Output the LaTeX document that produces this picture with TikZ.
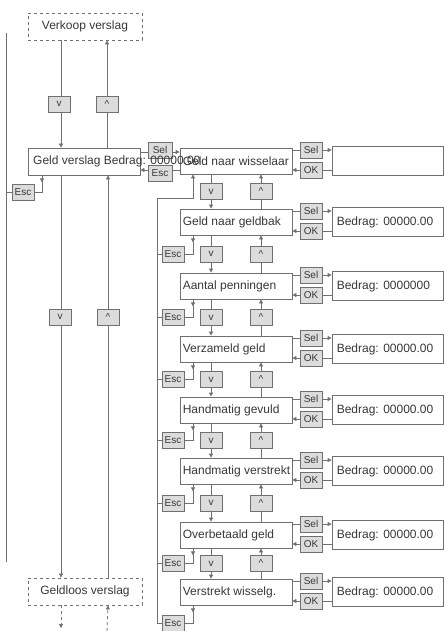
\documentclass[tikz,border=0pt]{standalone}
\usepackage{fontspec}
\setmainfont{Liberation Sans}
\usetikzlibrary{arrows.meta,calc,backgrounds}
\definecolor{ln}{HTML}{707070}
\definecolor{kf}{HTML}{DCDCDC}
\definecolor{tx}{HTML}{383838}
\begin{document}
\begin{tikzpicture}[x=1pt,y=-1pt,
  every node/.style={text=tx},
  line/.style={draw=ln,line width=0.8pt},
  arr/.style={line,-{Triangle[length=4pt,width=4pt]}},
  mainbox/.style={draw=ln,line width=0.8pt,fill=white,minimum width=112pt,minimum height=26pt,inner xsep=3pt,inner ysep=0pt,font=\fontsize{12}{14}\selectfont},
  keybox/.style={draw=ln,line width=0.8pt,fill=kf,minimum width=22pt,minimum height=16pt,inner sep=0pt,font=\fontsize{10}{11}\selectfont},
  dispbox/.style={draw=ln,line width=0.8pt,fill=white,minimum width=111pt,minimum height=29pt,inner xsep=5pt,inner ysep=0pt,font=\fontsize{12}{14}\selectfont},
  dashbox/.style={draw=ln,line width=0.8pt,fill=white,dashed,minimum width=114pt,minimum height=27pt,inner sep=0pt,font=\fontsize{12}{14}\selectfont},
  lbl/.style={font=\fontsize{12}{14}\selectfont,inner sep=0pt}
]
\useasboundingbox (0,0) rectangle (445,631);

% ---------- left column ----------
\node[dashbox] (vv) at (85,26.5) {Verkoop verslag};
\node[mainbox,minimum height=27pt] (gv) at (84,161.5) {};
\node[dashbox] (gl) at (85,591.5) {Geldloos verslag};
\node[keybox] (lv1) at (59,104) {v};
\node[keybox] (lu1) at (107,104) {\textasciicircum};
\node[keybox] (lv2) at (60,317) {v};
\node[keybox] (lu2) at (108,317) {\textasciicircum};
\node[keybox] (e1) at (23,192) {Esc};
\coordinate (lt) at (6,33);
\coordinate (lb) at (6,562);
\coordinate (bd) at (61,628);
\coordinate (bu) at (107,631);

% middle keys
\node[keybox,minimum width=24pt] (ms) at (160,150) {Sel};
\node[keybox,minimum width=24pt] (me) at (160,173) {Esc};

% ---------- right chain ----------
\foreach \i/\y/\t/\d in {
  1/161/Geld naar wisselaar/{},
  2/222/Geld naar geldbak/Bedrag: 00000.00,
  3/286/Aantal penningen/Bedrag: 0000000,
  4/349/Verzameld geld/Bedrag: 00000.00,
  5/410/Handmatig gevuld/Bedrag: 00000.00,
  6/471/Handmatig verstrekt/Bedrag: 00000.00,
  7/535/Overbetaald geld/Bedrag: 00000.00,
  8/592/Verstrekt wisselg./Bedrag: 00000.00}{
  \node[mainbox] (m\i) at (236,\y) {};
  \node[anchor=west,lbl] at (m\i.west) [xshift=3pt] {\t};
  \node[dispbox] (d\i) at (387.5,\y) {};
  \node[anchor=west,lbl] at (d\i.west) [xshift=5pt] {\d};
  \node[keybox] (s\i) at (311,\y-11) {Sel};
  \node[keybox] (o\i) at (311,\y+9) {OK};
}
\foreach \i/\j in {1/2,2/3,3/4,4/5,5/6,6/7,7/8}{
  \node[keybox] (vk\i) at ($(m\i.center)!0.5!(m\j.center)+(-25,0)$) {v};
  \node[keybox] (uk\i) at ($(m\i.center)!0.5!(m\j.center)+(25,0)$) {\textasciicircum};
}
\foreach \i/\j in {2/3,3/4,4/5,5/6,6/7,7/8}{
  \node[keybox] (e\i) at ($(m\i.center)!0.5!(m\j.center)+(-63,0)$) {Esc};
}
\node[keybox] (e8) at (173,623) {Esc};
\coordinate (escL) at (157,198);
\coordinate (escB) at (157,623);

\begin{scope}[on background layer]
\path[fill=white] (0,0) rectangle (445,631);
% left column connectors
\draw[line] (lt) -- (lb);
\draw[line] (e1.west) -- (e1.west -| lt);
\draw[arr] ($(gv.south)+(-42,0)$) -- ++(0,7);
\draw[line] ($(gv.south)+(-42,0)$) |- (e1.east);
\draw[arr] (vv.south -| 61,0) -- (gv.north -| 61,0);
\draw[arr] (gv.north -| lu1) -- (vv.south -| lu1);
\draw[arr] (gv.south -| 61,0) -- (gl.north -| 61,0);
\draw[arr] (gl.north -| lu2) -- (gv.south -| lu2);
\draw[arr,dashed] (gl.south -| bd) -- (bd);
\draw[arr,dashed] (bu) -- (gl.south -| lu2);
% middle
\draw[line] (gv.east |- 0,152) -- (ms.west |- 0,152);
\draw[arr] (ms.east |- 0,152) -- (m1.west |- 0,152);
\draw[line] (m1.west |- 0,170) -- (me.east |- 0,170);
\draw[arr] (me.west |- 0,170) -- (gv.east |- 0,170);
% right chain
\foreach \i in {1,...,8}{
  \draw[line] (m\i.east |- s\i) -- (s\i.west);
  \draw[arr] (s\i.east) -- (d\i.west |- s\i);
  \draw[line] (d\i.west |- o\i) -- (o\i.east);
  \draw[arr] (o\i.west) -- (m\i.east |- o\i);
}
\foreach \i/\j in {1/2,2/3,3/4,4/5,5/6,6/7,7/8}{
  \draw[arr] (m\i.south -| vk\i) -- (m\j.north -| vk\i);
  \draw[arr] (m\j.north -| uk\i) -- (m\i.south -| uk\i);
}
\foreach \i in {2,...,8}{
  \draw[arr] ($(m\i.south)+(-43,0)$) -- ++(0,7);
  \draw[line] ($(m\i.south)+(-43,0)$) |- (e\i.east);
  \draw[line] (e\i.west) -- (e\i.west -| escL);
}
\draw[arr] (escB) -- (escL) -| ($(m1.south)+(-43,0)$);
\end{scope}

% overflowing label of the report box, drawn on top
\node[lbl,anchor=west] (gvt) at (33,161.5) {Geld verslag Bedrag: 00000.00};
\end{tikzpicture}
\end{document}
